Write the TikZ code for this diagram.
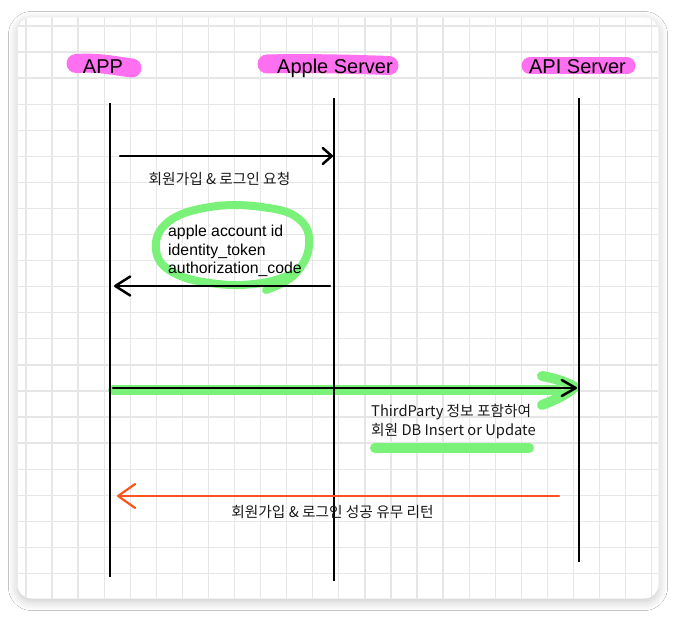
\documentclass[tikz,border=0pt]{standalone}
\usepackage{fontspec}
\setmainfont{Liberation Sans}
\newfontfamily\kr{Noto Sans CJK KR}
\usetikzlibrary{arrows.meta,shadows.blur}
\definecolor{hlpink}{RGB}{255,112,240}
\definecolor{hlgreen}{RGB}{122,242,122}
\definecolor{retorange}{RGB}{255,84,30}
\definecolor{gridgray}{RGB}{230,230,230}
\begin{document}
\begin{tikzpicture}[x=1pt,y=-1pt,
  lifeline/.style={line width=2.2pt, black},
  msg/.style={line width=2.5pt, line cap=round},
  hdr/.style={font=\fontsize{20}{24}\selectfont, inner sep=0pt, anchor=base},
  lbl/.style={font=\kr\fontsize{14.7}{17}\selectfont, inner sep=0pt, text=black!90},
  idtxt/.style={font=\fontsize{15.8}{18.7}\selectfont, inner sep=0pt, anchor=base west},
  hlp/.style={line width=19pt, line cap=round, hlpink},
  hlg/.style={line width=10pt, line cap=round, line join=round, hlgreen},
  gridline/.style={gridgray, line width=1.3pt},
]
\useasboundingbox (0,0) rectangle (677,617);
\fill[white] (0,0) rectangle (677,617);
% card with shadow
\path[fill=white, rounded corners=14pt,
  blur shadow={shadow xshift=0pt, shadow yshift=-3pt, shadow blur radius=9pt, shadow opacity=22, shadow blur steps=12}]
  (17.5,17.5) rectangle (658.5,598.5);
% grid
\begin{scope}
  \clip[rounded corners=14pt] (17.5,17.5) rectangle (658.5,598.5);
  \foreach \i in {0,...,24} \draw[gridline] ({26+26.07*\i},17) -- ({26+26.07*\i},599);
  \foreach \j in {0,...,22} \draw[gridline] (17,{26+26.07*\j}) -- (659,{26+26.07*\j});
\end{scope}
% pink highlights
\draw[hlp] (76,63.5) .. controls (100,62) and (115,66) .. (132,68);
\draw[hlp] (267,64) .. controls (300,63) and (350,64) .. (389,65.5);
\draw[line width=17pt, line cap=round, hlpink] (530,66) -- (627,66);
% headers
\node[hdr] (app) at (103,73.5) {APP};
\node[hdr] (apple) at (335,73.5) {Apple Server};
\node[hdr] (api) at (577.5,73.5) {API Server};
% green highlights
\draw[hlg, line width=8pt] plot[smooth, tension=0.7] coordinates {(266,290) (294,275) (309,246) (299,219) (262,207) (210,207) (168,222) (156,250) (174,273) (218,284) (262,283) (292,274)};
\coordinate (gbS) at (113,390);
\coordinate (gbE) at (557,390);
\draw[hlg] (gbS) -- (gbE);
\coordinate (gcA) at (542,376);
\coordinate (gcT) at (575,387);
\coordinate (gcB) at (542,405);
\draw[hlg] (gcA) .. controls (555,378) and (568,383) .. (gcT) .. controls (565,396) and (552,401) .. (gcB);
\coordinate (guS) at (375,448);
\coordinate (guE) at (529,448);
\draw[hlg] (guS) -- (guE);
% lifelines
\coordinate (appTop) at (110,103);  \coordinate (appBot) at (110,577);
\coordinate (aplTop) at (334,98);   \coordinate (aplBot) at (334,581);
\coordinate (apiTop) at (579,98);   \coordinate (apiBot) at (579,562);
\draw[lifeline] (appTop) -- (appBot);
\draw[lifeline] (aplTop) -- (aplBot);
\draw[lifeline] (apiTop) -- (apiBot);
% messages
\coordinate (m1s) at (120,156); \coordinate (m1e) at (333,156);
\coordinate (m2s) at (330,286); \coordinate (m2e) at (114,286);
\coordinate (m3s) at (113,388); \coordinate (m3e) at (577,388);
\coordinate (m4s) at (559,496); \coordinate (m4e) at (117,496);
\draw[msg, -{Straight Barb[length=9pt, width=16pt, round]}] (m1s) -- (m1e);
\draw[msg, -{Straight Barb[length=15pt, width=19pt, round]}] (m2s) -- (m2e);
\draw[msg, -{Straight Barb[length=14pt, width=16pt, round]}] (m3s) -- (m3e);
\draw[msg, line width=2.2pt, retorange, -{Straight Barb[length=17pt, width=24pt, round]}] (m4s) -- (m4e);
% labels
\node[lbl] (l1) at (219.5,179) {회원가입 \& 로그인 요청};
\node[idtxt] (t1) at (168,236.5) {apple account id};
\node[idtxt] (t2) at (168,255.2) {identity\_token};
\node[idtxt] (t3) at (168,274) {authorization\_code};
\node[lbl, anchor=west] (l3a) at (371,411.7) {ThirdParty 정보 포함하여};
\node[lbl, anchor=west] (l3b) at (371,431) {회원 DB Insert or Update};
\node[lbl] (l4) at (332.5,511.5) {회원가입 \& 로그인 성공 유무 리턴};
\end{tikzpicture}
\end{document}
